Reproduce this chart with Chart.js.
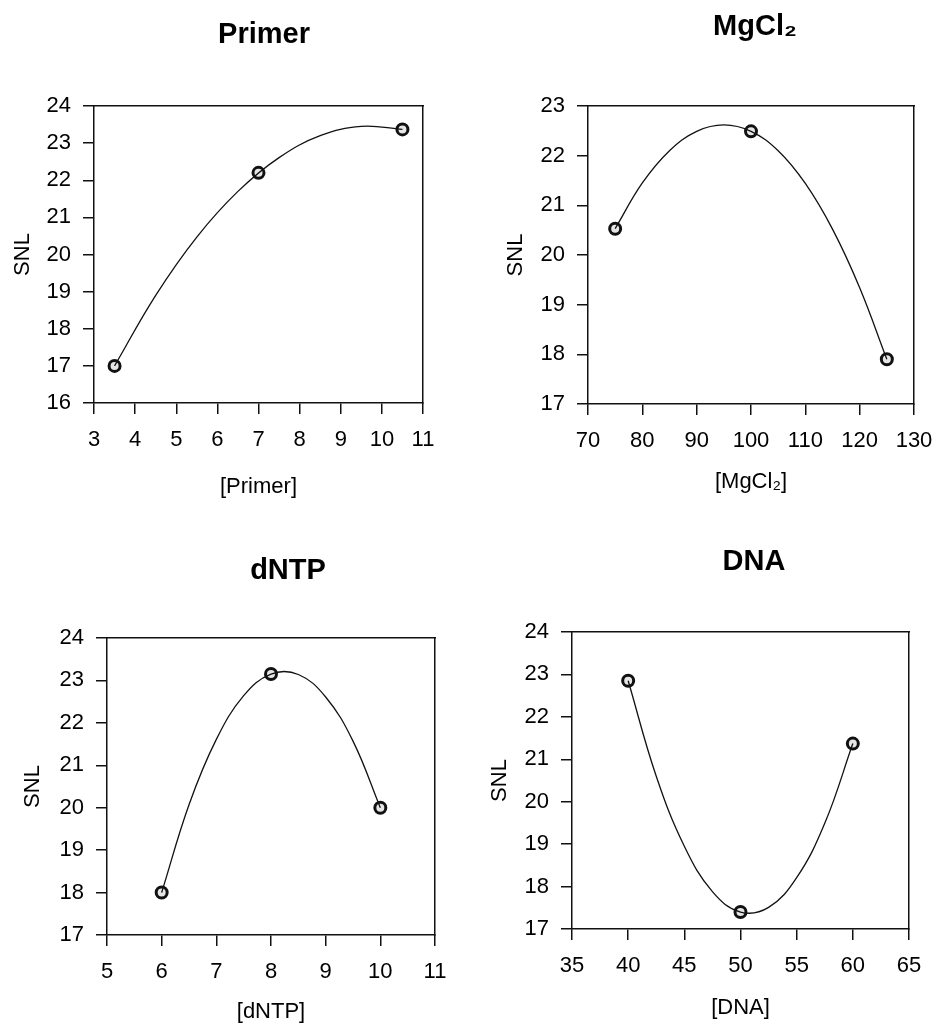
<!DOCTYPE html>
<html>
<head>
<meta charset="utf-8">
<title>SNL vs. PCR components</title>
<script src="https://cdn.jsdelivr.net/npm/chart.js@4.4.1/dist/chart.umd.min.js"></script>
<style>
  html, body { margin: 0; padding: 0; background: #fff; overflow: hidden; }
  #panels { position: relative; width: 937px; height: 1030px; }
  #panels canvas { position: absolute; }
</style>
</head>
<body>
<div id="panels">
  <canvas id="chartPrimer" width="528" height="520" style="left:0px;top:0px"></canvas>
  <canvas id="chartMgCl2" width="510" height="520" style="left:500px;top:0px"></canvas>
  <canvas id="chartDntp" width="576" height="510" style="left:0px;top:520px"></canvas>
  <canvas id="chartDna" width="548" height="510" style="left:480px;top:520px"></canvas>
</div>
<script>
// measured points
const primerX = [3.5, 7, 10.5];
const primerSNL = [17.0, 22.2, 23.37];
const mgcl2X = [75, 100, 125];
const mgcl2SNL = [20.53, 22.49, 17.9];
const dntpX = [6, 8, 10];
const dntpSNL = [18.0, 23.15, 20.0];
const dnaX = [40, 50, 60];
const dnaSNL = [22.85, 17.4, 21.37];

// fitted curves
const primerFitX = [3.5, 4.5, 5.5, 6.5, 7.5, 8.5, 9.5, 10.5];
const primerFitSNL = [17.0, 18.9, 20.47, 21.7, 22.61, 23.2, 23.45, 23.37];
const mgcl2FitX = [75, 80, 85, 90, 95, 100, 105, 110, 115, 120, 125];
const mgcl2FitSNL = [20.53, 21.45, 22.1, 22.49, 22.62, 22.49, 22.1, 21.44, 20.52, 19.34, 17.9];
const dntpFitX = [6, 6.5, 7, 7.5, 8, 8.5, 9, 9.5, 10];
const dntpFitSNL = [18.0, 20.07, 21.61, 22.64, 23.15, 23.14, 22.61, 21.57, 20.0];
const dnaFitX = [40, 42.5, 45, 47.5, 50, 52.5, 55, 57.5, 60];
const dnaFitSNL = [22.85, 20.6, 18.95, 17.88, 17.4, 17.51, 18.21, 19.49, 21.37];

// axis ranges [min, max, step]
const primerXTicks = [3, 11, 1];
const primerYTicks = [16, 24, 1];
const mgcl2XTicks = [70, 130, 10];
const mgcl2YTicks = [17, 23, 1];
const dntpXTicks = [5, 11, 1];
const dntpYTicks = [17, 24, 1];
const dnaXTicks = [35, 65, 5];
const dnaYTicks = [17, 24, 1];

document.addEventListener('DOMContentLoaded', function () {
    Chart.defaults.font.family = '"Liberation Sans", Arial, "DejaVu Sans", sans-serif';
    Chart.defaults.color = '#000';

    const ink = '#111';

    function toPoints(xs, ys) {
        return xs.map((x, i) => ({ x: x, y: ys[i] }));
    }

    // top / right edge of the box, no ticks
    function frameAxis(pos, size) {
        return {
            type: 'linear',
            position: pos,
            ticks: { display: false },
            grid: { drawOnChartArea: false, drawTicks: false },
            border: { display: true, color: ink, width: 1.5 },
            afterFit: function (s) {
                if (pos === 'top') s.height = size; else s.width = size;
            }
        };
    }

    function buildPanel(canvasId, p) {
        const ctx = document.getElementById(canvasId).getContext('2d');
        const tickGrid = { drawOnChartArea: false, tickLength: 11, color: ink, lineWidth: 1.5 };
        const axisBorder = { display: true, color: ink, width: 1.5 };

        return new Chart(ctx, {
            type: 'scatter',
            data: {
                datasets: [
                    {
                        data: toPoints(p.fitX, p.fitY),
                        showLine: true,
                        tension: 0.4,
                        borderColor: ink,
                        borderWidth: 1.3,
                        pointRadius: 0
                    },
                    {
                        data: toPoints(p.x, p.y),
                        showLine: false,
                        pointRadius: 5.5,
                        pointBorderWidth: 3,
                        pointBorderColor: ink,
                        pointBackgroundColor: '#e6e6e6'
                    }
                ]
            },
            options: {
                responsive: false,
                animation: false,
                events: [],
                layout: { padding: 0 },
                plugins: {
                    legend: { display: false },
                    tooltip: { enabled: false },
                    title: {
                        display: true,
                        text: p.title,
                        color: '#000',
                        font: { size: 29, weight: 'bold' },
                        padding: { top: p.titleTop, bottom: 0 }
                    }
                },
                scales: {
                    x: {
                        type: 'linear',
                        position: 'bottom',
                        min: p.xTicks[0],
                        max: p.xTicks[1],
                        ticks: { stepSize: p.xTicks[2], padding: 13, autoSkip: false, maxRotation: 0, font: { size: 22 } },
                        grid: tickGrid,
                        border: axisBorder,
                        title: { display: true, text: p.xTitle, font: { size: 22 }, padding: { top: 0, bottom: p.xTitleBottom } },
                        afterFit: function (s) { s.height = p.xAxisH; }
                    },
                    y: {
                        type: 'linear',
                        position: 'left',
                        min: p.yTicks[0],
                        max: p.yTicks[1],
                        ticks: { stepSize: p.yTicks[2], padding: 12, font: { size: 22 } },
                        grid: tickGrid,
                        border: axisBorder,
                        title: { display: true, text: 'SNL', font: { size: 22 }, padding: { top: p.yTitlePad, bottom: 0 } },
                        afterFit: function (s) { s.width = p.yAxisW; }
                    },
                    xTop: frameAxis('top', p.topH),
                    yRight: frameAxis('right', p.rightW)
                }
            }
        });
    }

    buildPanel('chartPrimer', {
        title: 'Primer', xTitle: '[Primer]',
        x: primerX, y: primerSNL, fitX: primerFitX, fitY: primerFitSNL,
        xTicks: primerXTicks, yTicks: primerYTicks,
        yAxisW: 94, rightW: 105, xAxisH: 117, topH: 53.6,
        titleTop: 17.6, yTitlePad: 9.8, xTitleBottom: 19.8
    });

    buildPanel('chartMgCl2', {
        title: 'MgCl₂', xTitle: '[MgCl₂]',
        x: mgcl2X, y: mgcl2SNL, fitX: mgcl2FitX, fitY: mgcl2FitSNL,
        xTicks: mgcl2XTicks, yTicks: mgcl2YTicks,
        yAxisW: 88, rightW: 96, xAxisH: 116, topH: 61.6,
        titleTop: 9.6, yTitlePad: 2.8, xTitleBottom: 24.8
    });

    buildPanel('chartDntp', {
        title: 'dNTP', xTitle: '[dNTP]',
        x: dntpX, y: dntpSNL, fitX: dntpFitX, fitY: dntpFitSNL,
        xTicks: dntpXTicks, yTicks: dntpYTicks,
        yAxisW: 107, rightW: 141, xAxisH: 95, topH: 49.6,
        titleTop: 33.6, yTitlePad: 19.8, xTitleBottom: 4.8
    });

    buildPanel('chartDna', {
        title: 'DNA', xTitle: '[DNA]',
        x: dnaX, y: dnaSNL, fitX: dnaFitX, fitY: dnaFitSNL,
        xTicks: dnaXTicks, yTicks: dnaYTicks,
        yAxisW: 92, rightW: 119, xAxisH: 101, topH: 52.6,
        titleTop: 24.6, yTitlePad: 6.8, xTitleBottom: 8.8
    });
});
</script>
</body>
</html>
